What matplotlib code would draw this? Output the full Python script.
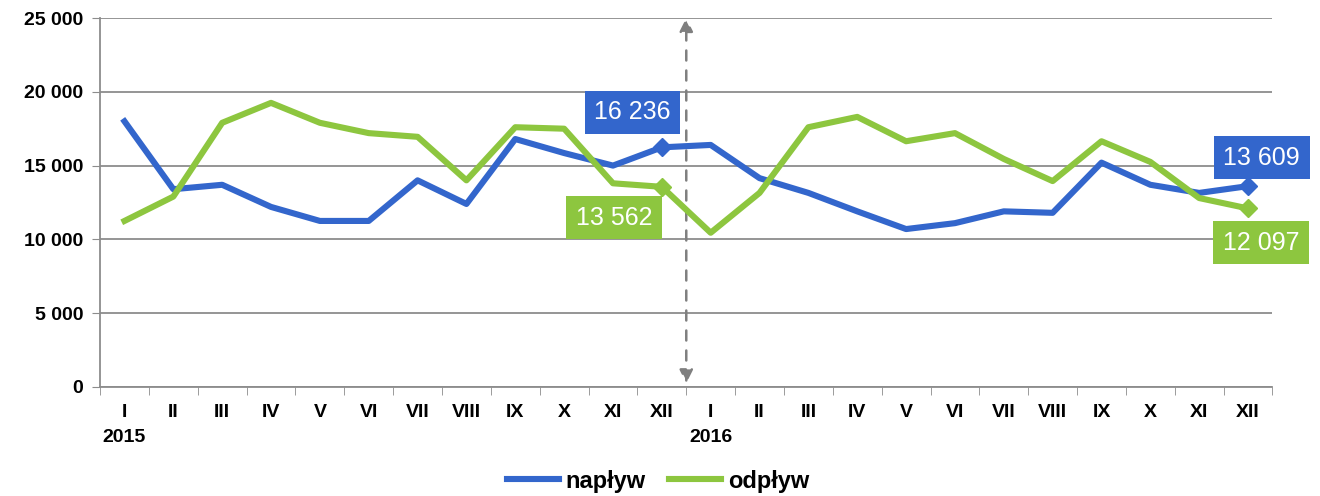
import matplotlib

matplotlib.use("Agg")

import matplotlib.pyplot as plt
import numpy as np

plt.rcParams["font.family"] = ["Liberation Sans", "DejaVu Sans"]

months = ["I", "II", "III", "IV", "V", "VI", "VII", "VIII", "IX", "X", "XI", "XII"] * 2
years = ["2015", "2016"]

naplyw = [18000, 13400, 13700, 12200, 11250, 11250, 14000, 12400, 16800, 15850, 15000, 16236,
          16400, 14150, 13150, 11900, 10700, 11100, 11900, 11800, 15200, 13700, 13150, 13609]
odplyw = [11250, 12900, 17900, 19250, 17900, 17200, 16950, 14000, 17600, 17500, 13800, 13562,
          10450, 13150, 17600, 18300, 16650, 17200, 15450, 13950, 16650, 15250, 12800, 12097]

BLUE = "#3366CC"
GREEN = "#8DC63F"


def fmt(v):
    return f"{v:,}".replace(",", " ")


fig = plt.figure(figsize=(13.2, 4.96), dpi=100)
ax = fig.add_axes([0.0758, 0.2198, 0.8882, 0.7439])

x = np.arange(len(months))
ax.plot(x, naplyw, color=BLUE, lw=4.4, solid_joinstyle="round", label="napływ", zorder=3)
ax.plot(x, odplyw, color=GREEN, lw=4.4, solid_joinstyle="round", label="odpływ", zorder=3)

# diamond markers on the December points
for idx in (11, 23):
    ax.plot(x[idx], naplyw[idx], marker="D", ms=9, color=BLUE, zorder=4)
    ax.plot(x[idx], odplyw[idx], marker="D", ms=9, color=GREEN, zorder=4)

ax.set_xlim(-0.5, len(months) - 0.5)
ax.set_ylim(0, 25000)
ax.set_yticks(np.arange(0, 25001, 5000))
ax.set_yticklabels([fmt(v) for v in range(0, 25001, 5000)], fontsize=14, fontweight="bold")
ax.yaxis.grid(True, color="#8c8c8c", lw=1.3)
ax.set_axisbelow(True)

ax.set_xticks(x)
ax.set_xticklabels(months, fontsize=14, fontweight="bold")
ax.set_xticks(np.arange(-0.5, len(months)), minor=True)
ax.tick_params(axis="x", which="major", length=0, pad=12)
ax.tick_params(axis="x", which="minor", length=6, color="#8c8c8c", direction="out")
ax.tick_params(axis="y", length=6, color="#8c8c8c", pad=6)

for s in ("top", "right"):
    ax.spines[s].set_visible(False)
for s in ("left", "bottom"):
    ax.spines[s].set_color("#8c8c8c")
    ax.spines[s].set_linewidth(1.3)

# year labels
for i, yr in enumerate(years):
    ax.text(x[i * 12], -0.113, yr, transform=ax.get_xaxis_transform(),
            ha="center", va="top", fontsize=14, fontweight="bold")

# dashed double arrow between years
ax.annotate("", xy=(11.5, 25000), xytext=(11.5, 250),
            arrowprops=dict(arrowstyle="<|-|>", color="#7f7f7f", lw=1.8, ls=(0, (4, 4)),
                            mutation_scale=20, shrinkA=0, shrinkB=0), zorder=2)

# value labels
labels = [
    (10.4, 18630, naplyw[11], BLUE),
    (10.02, 11450, odplyw[11], GREEN),
    (23.28, 15515, naplyw[23], BLUE),
    (23.26, 9756, odplyw[23], GREEN),
]
for lx, ly, val, col in labels:
    ax.text(lx, ly, fmt(val), ha="center", va="center", fontsize=18, color="white",
            bbox=dict(boxstyle="square,pad=0.38", fc=col, ec="none"), zorder=5, clip_on=False)

ax.legend(loc="center", bbox_to_anchor=(0.476, -0.255), ncol=2, frameon=False,
          prop={"size": 17, "weight": "bold"}, handlelength=2.2, handletextpad=0.3,
          columnspacing=1.0, borderpad=0.2)

fig.savefig("out.png", dpi=100)
